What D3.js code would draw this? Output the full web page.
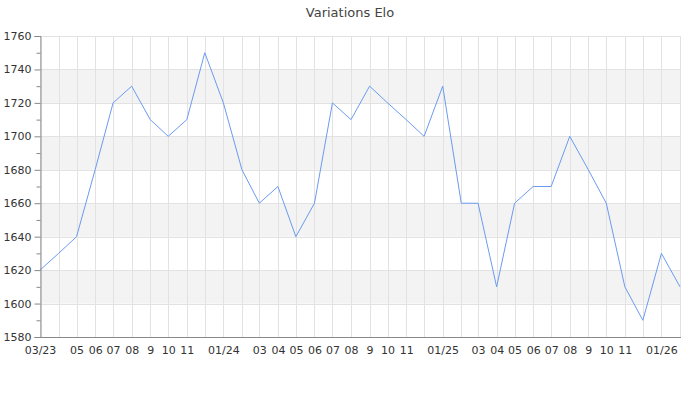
<!DOCTYPE html>
<html>
<head>
<meta charset="utf-8">
<script src="https://cdn.jsdelivr.net/npm/d3@7"></script>
<style>
  html, body { margin: 0; padding: 0; background: #fff; }
  svg { display: block; font-family: "DejaVu Sans", sans-serif; }
</style>
</head>
<body>
<svg id="chart" width="700" height="400"></svg>
<script>
// ---- data ----
const title = "Variations Elo";
const months = [
  "2023-03","2023-04","2023-05","2023-06","2023-07","2023-08","2023-09","2023-10","2023-11","2023-12",
  "2024-01","2024-02","2024-03","2024-04","2024-05","2024-06","2024-07","2024-08","2024-09","2024-10","2024-11","2024-12",
  "2025-01","2025-02","2025-03","2025-04","2025-05","2025-06","2025-07","2025-08","2025-09","2025-10","2025-11","2025-12",
  "2026-01","2026-02"
];
const elo = [
  1620,1630,1640,1680,1720,1730,1710,1700,1710,1750,
  1720,1680,1660,1670,1640,1660,1720,1710,1730,1720,1710,1700,
  1730,1660,1660,1610,1660,1670,1670,1700,1680,1660,1610,1590,
  1630,1610
];
const xTickLabels = [
  "03/23","","05","06","07","08","9","10","11","",
  "01/24","","03","04","05","06","07","08","9","10","11","",
  "01/25","","03","04","05","06","07","08","9","10","11","",
  "01/26",""
];
const yTicks = [1580,1600,1620,1640,1660,1680,1700,1720,1740,1760];
const yMinorTicks = [1590,1610,1630,1650,1670,1690,1710,1730,1750];
const yDomain = [1580, 1760];

// ---- layout ----
const svg = d3.select("#chart");
const mLeft = 40, mRight = 680, mTop = 36, mBottom = 337;
const parse = d3.timeParse("%Y-%m");
const dates = months.map(parse);
const data = dates.map((d, i) => ({ date: d, value: elo[i] }));

const x = d3.scaleTime().domain([dates[0], dates[dates.length - 1]]).range([mLeft, mRight]);
const y = d3.scaleLinear().domain(yDomain).range([mBottom, mTop]);

// bands
const bandStarts = yTicks.filter((t, i) => i % 2 === 1 && t < yDomain[1]);
svg.append("g").selectAll("rect").data(bandStarts).join("rect")
  .attr("x", mLeft).attr("width", mRight - mLeft)
  .attr("y", d => y(d + 20)).attr("height", d => y(d) - y(d + 20))
  .attr("fill", "#f3f3f3");

// vertical grid
svg.append("g").selectAll("line").data(dates).join("line")
  .attr("x1", d => Math.round(x(d)) + 0.5).attr("x2", d => Math.round(x(d)) + 0.5)
  .attr("y1", mTop).attr("y2", mBottom)
  .attr("stroke", "#e2e2e2").attr("stroke-width", 1);

// horizontal grid
svg.append("g").selectAll("line").data(yTicks).join("line")
  .attr("x1", mLeft).attr("x2", mRight + 1)
  .attr("y1", d => Math.round(y(d)) + 0.5).attr("y2", d => Math.round(y(d)) + 0.5)
  .attr("stroke", "#e2e2e2").attr("stroke-width", 1);

// line
const line = d3.line().x(d => x(d.date)).y(d => y(d.value));
svg.append("path").datum(data)
  .attr("d", line)
  .attr("fill", "none")
  .attr("stroke", "#6a9bf0")
  .attr("stroke-width", 1);

// y axis
const yAxis = d3.axisLeft(y).tickValues(yTicks).tickSize(6).tickPadding(3).tickFormat(d3.format("d"));
const gy = svg.append("g").attr("transform", `translate(${mLeft + 0.5},0)`).call(yAxis);
gy.select(".domain").attr("stroke", "#888");
gy.selectAll(".tick line").attr("stroke", "#888");
gy.selectAll(".tick text").attr("fill", "#333").style("font-size", "11px").style("font-family", "DejaVu Sans");
const yMinor = d3.axisLeft(y).tickValues(yMinorTicks).tickSize(4).tickFormat("");
const gym = svg.append("g").attr("transform", `translate(${mLeft + 0.5},0)`).call(yMinor);
gym.select(".domain").remove();
gym.selectAll(".tick line").attr("stroke", "#888");

// x axis
const xAxis = d3.axisBottom(x).tickValues(dates).tickSize(0).tickPadding(9)
  .tickFormat((d, i) => xTickLabels[i]);
const gx = svg.append("g").attr("transform", `translate(0,${mBottom + 0.5})`).call(xAxis);
gx.select(".domain").attr("stroke", "#888").attr("d", `M${mLeft},0H${mRight + 1}`);
gx.selectAll(".tick text").attr("fill", "#333").style("font-size", "11px").style("font-family", "DejaVu Sans");

// title
svg.append("text").attr("x", 350).attr("y", 17).attr("text-anchor", "middle")
  .attr("fill", "#444").style("font-size", "13px").text(title);
</script>
</body>
</html>
